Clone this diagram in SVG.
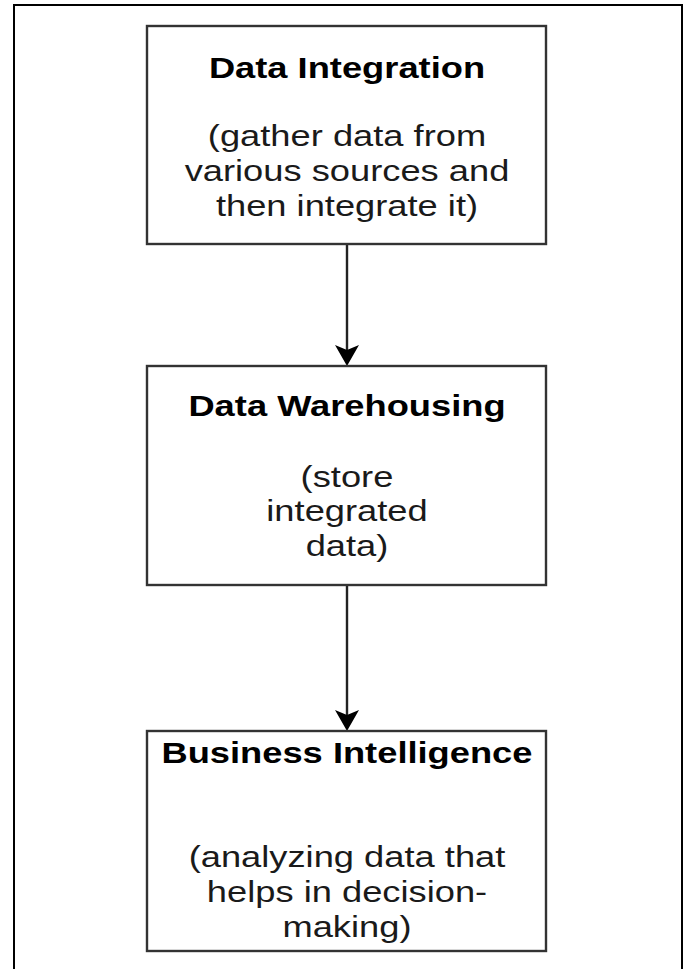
<svg xmlns="http://www.w3.org/2000/svg" width="686" height="969" viewBox="0 0 686 969">
  <style>
    .frame { fill: none; stroke: #000; stroke-width: 2; }
    .box { fill: #fff; stroke: #333; stroke-width: 2.4; }
    .title { font-family: "Liberation Sans", Arial, sans-serif; font-weight: bold; font-size: 30px; fill: #000; text-anchor: middle; }
    .body { font-family: "Liberation Sans", Arial, sans-serif; font-size: 30px; fill: #1a1a1a; text-anchor: middle; }
    .edge { fill: none; stroke: #222; stroke-width: 2.4; }
  </style>
  <defs>
    <marker id="arrow" viewBox="-22 -13 23 26" refX="-16" refY="0" markerWidth="23" markerHeight="26" markerUnits="userSpaceOnUse" orient="auto">
      <path d="M0,0 L-21,-12 L-16,0 L-21,12 Z" fill="#000"/>
    </marker>
  </defs>
  <rect width="686" height="969" fill="#fff"/>
  <path class="frame" d="M14,969 V5 H682 V969"/>

  <g id="connectors">
    <path class="edge" d="M347,244 V350" marker-end="url(#arrow)"/>
    <path class="edge" d="M347,585 V715" marker-end="url(#arrow)"/>
  </g>

  <g id="data-integration">
    <rect class="box" x="147" y="26" width="399" height="218"/>
    <g transform="matrix(1.21 0 0 1 -72.87 0)">
      <text class="title" x="347" y="78">Data Integration</text>
      <text class="body" x="347" y="146">(gather data from</text>
      <text class="body" x="347" y="181">various sources and</text>
      <text class="body" x="347" y="216">then integrate it)</text>
    </g>
  </g>

  <g id="data-warehousing">
    <rect class="box" x="147" y="366" width="399" height="219"/>
    <g transform="matrix(1.21 0 0 1 -72.87 0)">
      <text class="title" x="347" y="416">Data Warehousing</text>
      <text class="body" x="347" y="487">(store</text>
      <text class="body" x="347" y="521">integrated</text>
      <text class="body" x="347" y="556">data)</text>
    </g>
  </g>

  <g id="business-intelligence">
    <rect class="box" x="147" y="731" width="399" height="220"/>
    <g transform="matrix(1.21 0 0 1 -72.87 0)">
      <text class="title" x="347" y="763">Business Intelligence</text>
      <text class="body" x="347" y="867">(analyzing data that</text>
      <text class="body" x="347" y="902">helps in decision-</text>
      <text class="body" x="347" y="937">making)</text>
    </g>
  </g>
</svg>
